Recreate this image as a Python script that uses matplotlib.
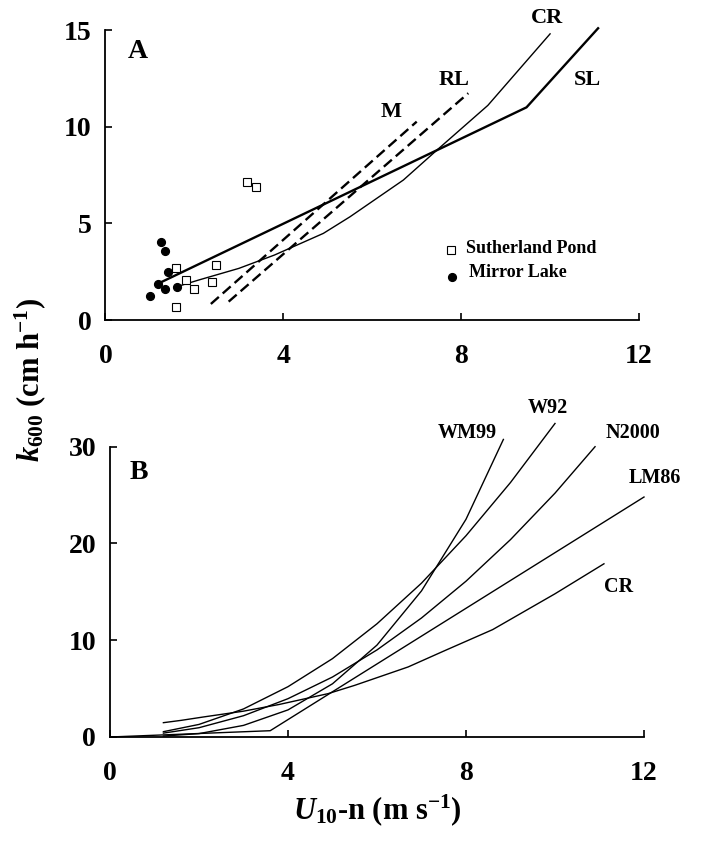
import numpy as np
import matplotlib
matplotlib.use("Agg")
import matplotlib.pyplot as plt

plt.rcParams['font.family'] = ['Liberation Serif', 'DejaVu Serif']
plt.rcParams['font.weight'] = 'bold'
plt.rcParams['mathtext.fontset'] = 'custom'
plt.rcParams['mathtext.rm'] = 'Liberation Serif:bold'
plt.rcParams['mathtext.bf'] = 'Liberation Serif:bold'
plt.rcParams['mathtext.it'] = 'Liberation Serif:bold:italic'

# ---- Panel A data ----
sutherland_u = [1.59, 1.80, 2.00, 1.59, 2.48, 2.40, 3.18, 3.39]
sutherland_k = [2.67, 2.07, 1.59, 0.67, 2.85, 1.95, 7.16, 6.90]
mirror_u = [1.24, 1.34, 1.40, 1.19, 1.34, 1.60, 1.00]
mirror_k = [4.05, 3.57, 2.47, 1.84, 1.59, 1.69, 1.24]

sl_u = [1.2, 9.47, 11.08]
sl_k = [1.9, 11.0, 15.09]
m_u = [2.37, 7.0]
m_k = [0.83, 10.26]
rl_u = [2.77, 8.16]
rl_k = [0.95, 11.73]

# ---- Panel B data (CR also used in panel A) ----
cr_u = [1.2, 1.6, 2.1, 3.0, 3.8, 4.9, 5.5, 6.7, 7.5, 8.6, 10.0, 11.1]
cr_k = [1.48, 1.72, 2.07, 2.67, 3.36, 4.48, 5.34, 7.24, 8.88, 11.1, 14.8, 17.9]
wm99_u = [1.2, 2, 3, 4, 5, 6, 7, 8, 8.84]
wm99_k = [0.10, 0.35, 1.2, 2.8, 5.5, 9.5, 15.1, 22.5, 30.75]
w92_u = [1.2, 2, 3, 4, 5, 6, 7, 8, 9, 10]
w92_k = [0.55, 1.3, 2.9, 5.2, 8.1, 11.7, 15.9, 20.8, 26.3, 32.4]
n2000_u = [1.2, 2, 3, 4, 5, 6, 7, 8, 9, 10, 10.9]
n2000_k = [0.40, 0.96, 2.2, 3.96, 6.2, 9.0, 12.3, 16.1, 20.4, 25.2, 30.0]
lm86_u = [0, 3.6, 12]
lm86_k = [0, 0.65, 24.8]

x_ticks = [0, 4, 8, 12]
a_yticks = [0, 5, 10, 15]
b_yticks = [0, 10, 20, 30]

W, H = 703, 841
fig = plt.figure(figsize=(W / 100, H / 100), dpi=100)

axA = fig.add_axes([105.5 / W, 1 - 320 / H, 533.5 / W, 290 / H])
axB = fig.add_axes([110 / W, 1 - 737 / H, 534 / W, 290.3 / H])

tick_fs = 20
for ax in (axA, axB):
    for s in ('top', 'right'):
        ax.spines[s].set_visible(False)
    for s in ('left', 'bottom'):
        ax.spines[s].set_linewidth(1.3)
    ax.set_xlim(0, 12)
    ax.set_xticks(x_ticks)
    ax.tick_params(direction='in', length=5, width=1.2, labelsize=tick_fs)
    ax.tick_params(axis='x', pad=17)
    ax.tick_params(axis='y', pad=10)
    for lab in ax.get_xticklabels() + ax.get_yticklabels():
        lab.set_fontweight('bold')

# Panel A
axA.set_ylim(0, 15)
axA.set_yticks(a_yticks)
cr_a = [(u, k) for u, k in zip(cr_u, cr_k) if 1.6 <= u <= 10.0]
axA.plot([p[0] for p in cr_a], [p[1] for p in cr_a], color='black', lw=1.0, clip_on=False)
axA.plot(sl_u, sl_k, color='black', lw=1.7, clip_on=False)
axA.plot(m_u, m_k, color='black', lw=1.7, dashes=(4.5, 2.2))
axA.plot(rl_u, rl_k, color='black', lw=1.7, dashes=(4.5, 2.2))
axA.plot(sutherland_u, sutherland_k, linestyle='none', marker='s', ms=5.2,
         mfc='white', mec='black', mew=0.8)
axA.plot(mirror_u, mirror_k, linestyle='none', marker='o', ms=5.6,
         mfc='black', mec='black')

lab_fs = 16
axA.text(0.73, 13.9, 'A', fontsize=20, fontweight='bold', ha='center', va='center')
axA.text(9.92, 15.6, 'CR', fontsize=lab_fs, fontweight='bold', ha='center', va='center', clip_on=False)
axA.text(10.83, 12.4, 'SL', fontsize=lab_fs, fontweight='bold', ha='center', va='center')
axA.text(7.85, 12.4, 'RL', fontsize=lab_fs, fontweight='bold', ha='center', va='center')
axA.text(6.43, 10.78, 'M', fontsize=lab_fs, fontweight='bold', ha='center', va='center')

# legend
axA.plot([7.77], [3.62], linestyle='none', marker='s', ms=5.2, mfc='white', mec='black', mew=0.8)
axA.plot([7.79], [2.22], linestyle='none', marker='o', ms=5.6, mfc='black', mec='black')
axA.text(8.1, 3.72, 'Sutherland Pond', fontsize=13, fontweight='bold', ha='left', va='center')
axA.text(8.17, 2.45, 'Mirror Lake', fontsize=13, fontweight='bold', ha='left', va='center')

# Panel B
axB.set_ylim(0, 30)
axB.set_yticks(b_yticks)
for u, k in ((wm99_u, wm99_k), (w92_u, w92_k), (n2000_u, n2000_k),
             (lm86_u, lm86_k), (cr_u, cr_k)):
    axB.plot(u, k, color='black', lw=1.0, clip_on=False)

lab_fs_b = 14.5
axB.text(0.64, 27.35, 'B', fontsize=20, fontweight='bold', ha='center', va='center')
axB.text(8.02, 31.4, 'WM99', fontsize=lab_fs_b, fontweight='bold', ha='center', va='center', clip_on=False)
axB.text(9.84, 34.0, 'W92', fontsize=lab_fs_b, fontweight='bold', ha='center', va='center', clip_on=False)
axB.text(11.75, 31.4, 'N2000', fontsize=lab_fs_b, fontweight='bold', ha='center', va='center', clip_on=False)
axB.text(12.25, 26.75, 'LM86', fontsize=lab_fs_b, fontweight='bold', ha='center', va='center', clip_on=False)
axB.text(11.42, 15.5, 'CR', fontsize=lab_fs_b, fontweight='bold', ha='center', va='center')

# axis titles
fig.text(30 / W, 1 - 380 / H, r'$k_{600}$ (cm h$^{-1}$)', rotation=90,
         fontsize=22, fontweight='bold', ha='center', va='center')
fig.text(377 / W, 1 - 810 / H, r'$U_{10}$-n (m s$^{-1}$)',
         fontsize=22, fontweight='bold', ha='center', va='center')

fig.savefig('out.png', dpi=100)
